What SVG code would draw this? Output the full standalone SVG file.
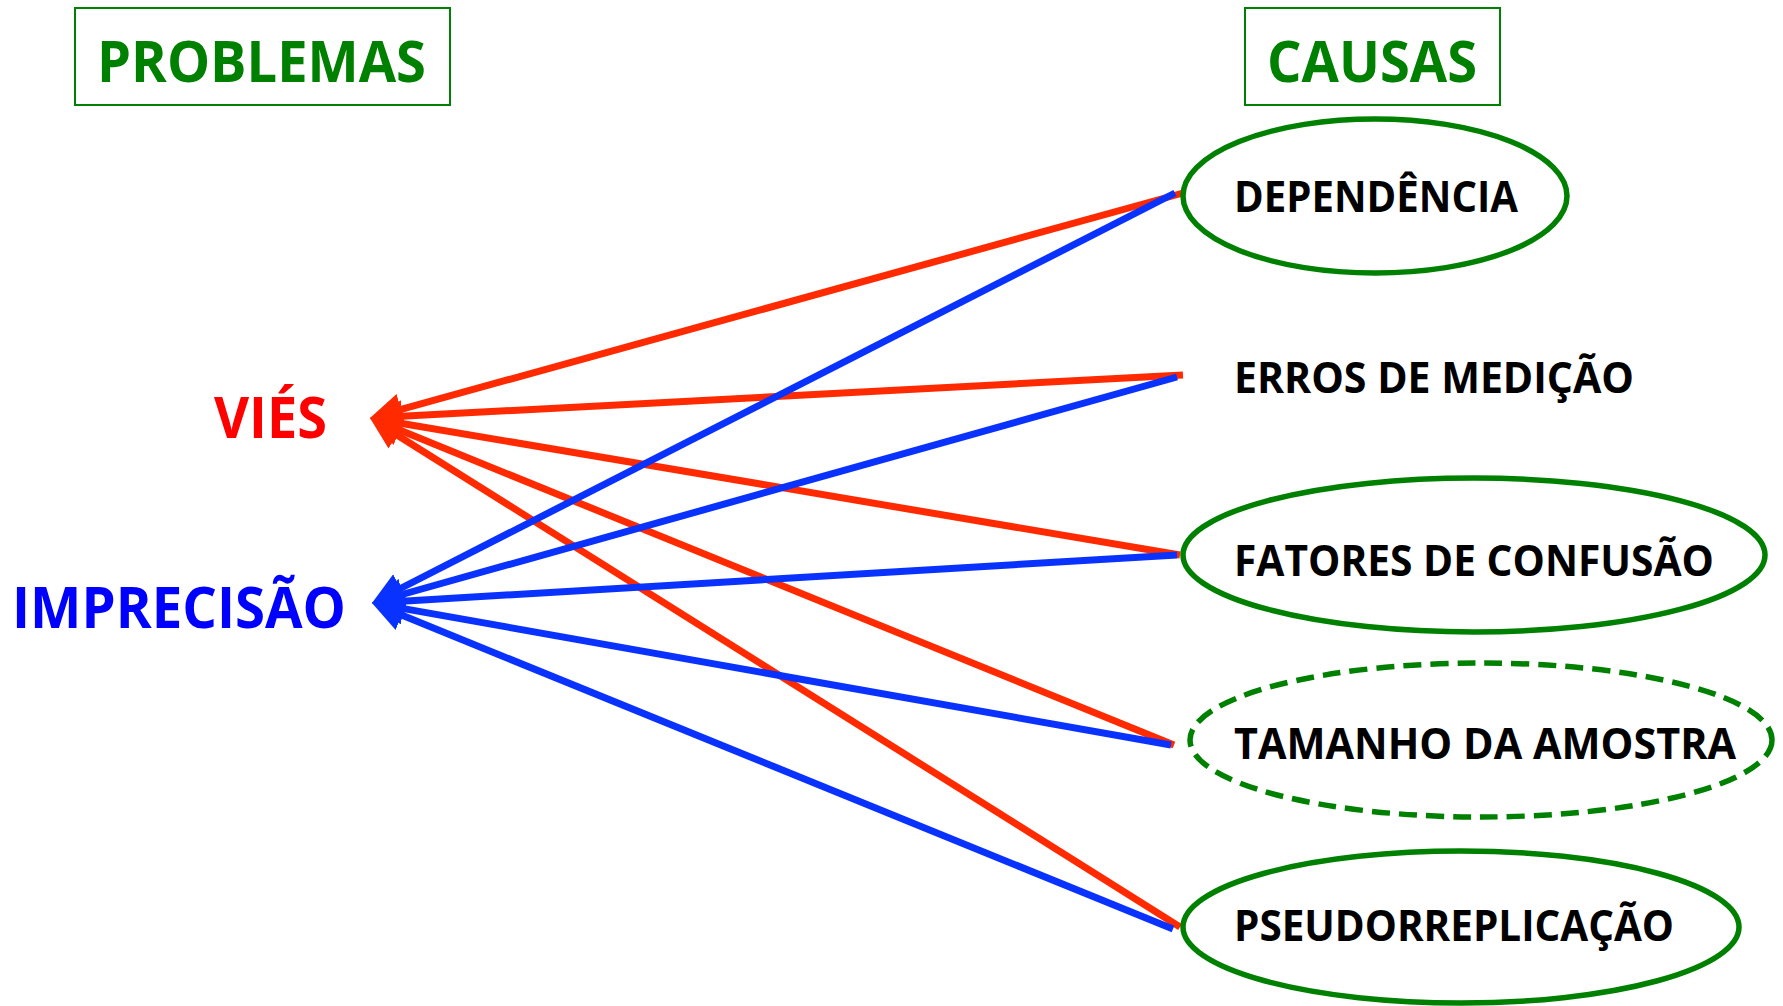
<svg xmlns="http://www.w3.org/2000/svg" width="1783" height="1006" viewBox="0 0 1783 1006">
<style>
.bg{fill:#ffffff}
.title{font-family:"Open Sans","Liberation Sans",sans-serif;font-weight:700;fill:#008000;font-size:58px}
.tbox{fill:none;stroke:#008000;stroke-width:2}
.cause{fill:none;stroke:#008000;stroke-width:5.5}
.dashed{stroke-dasharray:18 9}
.ctext{font-family:"Open Sans","Liberation Sans",sans-serif;font-weight:700;fill:#000000;font-size:43px}
.ptext{font-family:"Open Sans","Liberation Sans",sans-serif;font-weight:700;font-size:58px}
.red{stroke:#FF2A00;stroke-width:7;fill:none;marker-end:url(#ahR)}
.blue{stroke:#0A32FF;stroke-width:7;fill:none;marker-end:url(#ahB)}
</style>
<defs>
<marker id="ahR" viewBox="0 0 32 32" markerUnits="userSpaceOnUse" markerWidth="32" markerHeight="32" refX="10" refY="16" orient="auto">
<path d="M0,0 L32,16 L0,32 z" fill="#FF2A00"/>
</marker>
<marker id="ahB" viewBox="0 0 32 32" markerUnits="userSpaceOnUse" markerWidth="32" markerHeight="32" refX="10" refY="16" orient="auto">
<path d="M0,0 L32,16 L0,32 z" fill="#0A32FF"/>
</marker>
</defs>
<rect class="bg" x="0" y="0" width="1783" height="1006"/>

<g id="connectors">
<line class="red" x1="1183" y1="193" x2="391.2" y2="412.1"/>
<line class="red" x1="1183" y1="375" x2="392" y2="416.8"/>
<line class="red" x1="1180" y1="555" x2="391.7" y2="421.7"/>
<line class="red" x1="1174" y1="745" x2="390.4" y2="426.3"/>
<line class="red" x1="1180" y1="927" x2="388.6" y2="429.7"/>
<line class="blue" x1="1175" y1="193" x2="391.6" y2="593"/>
<line class="blue" x1="1177" y1="377" x2="393.2" y2="597"/>
<line class="blue" x1="1177" y1="555" x2="394" y2="601.7"/>
<line class="blue" x1="1171" y1="745" x2="393.7" y2="606.9"/>
<line class="blue" x1="1173" y1="929" x2="392.4" y2="611.3"/>
</g>

<g id="problemas">
<rect class="tbox" x="75" y="8" width="375" height="97"/>
<text class="title" x="97" y="82" textLength="329" lengthAdjust="spacingAndGlyphs">PROBLEMAS</text>
</g>
<g id="causas">
<rect class="tbox" x="1245" y="8" width="255" height="97"/>
<text class="title" x="1267" y="82" textLength="210" lengthAdjust="spacingAndGlyphs">CAUSAS</text>
</g>

<g id="vies">
<text class="ptext" x="214" y="438" fill="#FF0000" textLength="113" lengthAdjust="spacingAndGlyphs">VIÉS</text>
</g>
<g id="imprecisao">
<text class="ptext" x="12" y="628" fill="#0000FF" textLength="334" lengthAdjust="spacingAndGlyphs">IMPRECISÃO</text>
</g>

<g id="dependencia">
<ellipse class="cause" cx="1375" cy="196" rx="192" ry="77"/>
<text class="ctext" x="1234" y="212" textLength="284" lengthAdjust="spacingAndGlyphs">DEPENDÊNCIA</text>
</g>
<g id="erros">
<text class="ctext" x="1234" y="393" textLength="400" lengthAdjust="spacingAndGlyphs">ERROS DE MEDIÇÃO</text>
</g>
<g id="fatores">
<ellipse class="cause" cx="1474" cy="555" rx="291" ry="77"/>
<text class="ctext" x="1234" y="576" textLength="480" lengthAdjust="spacingAndGlyphs">FATORES DE CONFUSÃO</text>
</g>
<g id="tamanho">
<ellipse class="cause dashed" cx="1481" cy="740" rx="291" ry="77"/>
<text class="ctext" x="1234" y="759" textLength="502" lengthAdjust="spacingAndGlyphs">TAMANHO DA AMOSTRA</text>
</g>
<g id="pseudo">
<ellipse class="cause" cx="1461" cy="927" rx="278" ry="76"/>
<text class="ctext" x="1234" y="941" textLength="440" lengthAdjust="spacingAndGlyphs">PSEUDORREPLICAÇÃO</text>
</g>
</svg>
